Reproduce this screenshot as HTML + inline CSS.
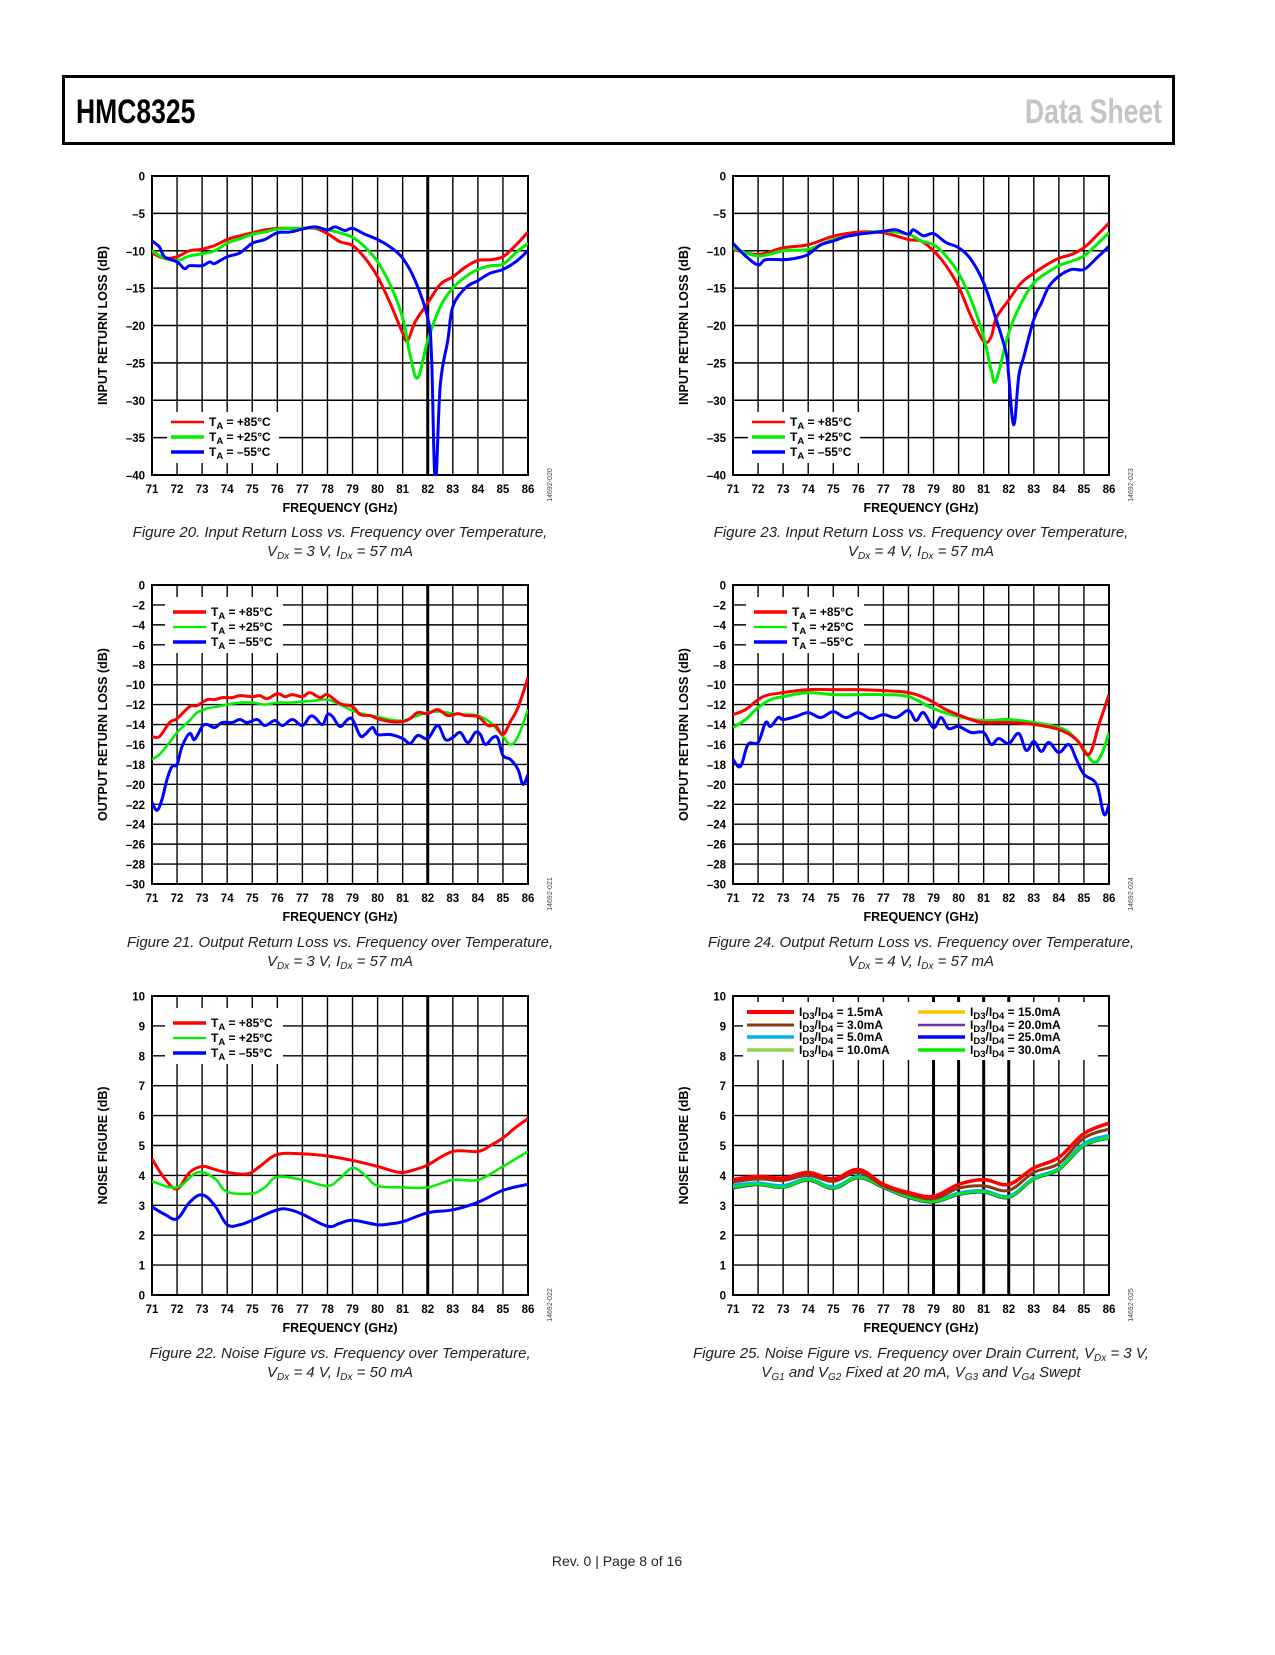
<!DOCTYPE html>
<html><head><meta charset="utf-8"><title>HMC8325 Data Sheet page 8</title>
<style>
html,body{margin:0;padding:0;background:#fff;}
body{width:1275px;height:1650px;position:relative;overflow:hidden;font-family:"Liberation Sans",sans-serif;}
svg text{font-family:"Liberation Sans",sans-serif;}
.cap{font-style:italic;font-size:15px;fill:#222;}
</style></head>
<body>
<svg id="pg" width="1275" height="1650" viewBox="0 0 1275 1650" xmlns="http://www.w3.org/2000/svg">
  <rect x="63.5" y="76.5" width="1110" height="67" fill="none" stroke="#000" stroke-width="3"/>
  <text x="76" y="123" font-size="34" font-weight="bold" transform="translate(76 0) scale(0.78 1) translate(-76 0)">HMC8325</text>
  <text x="1162" y="123" font-size="34" font-weight="bold" fill="#c4c4c4" text-anchor="end" transform="translate(1162 0) scale(0.78 1) translate(-1162 0)">Data Sheet</text>
  <text x="617" y="1566" font-size="14" text-anchor="middle" fill="#222">Rev. 0 | Page 8 of 16</text>
  <g id="charts"></g>
</svg>
<script>
// ---------- Figure 20 data (input return loss, Vdx=3V) ----------
const fig20Red = [[71,-10.3],[71.5,-11],[72,-10.8],[72.5,-10],[73,-9.8],[73.5,-9.3],[74,-8.5],[74.5,-8],[75,-7.6],[75.5,-7.2],[76,-7],[76.5,-7],[77,-7],[77.5,-7],[78,-7.7],[78.5,-8.8],[79,-9.3],[79.5,-11],[80,-13.5],[80.5,-17],[81,-21],[81.2,-22],[81.5,-19.5],[82,-17],[82.5,-14.5],[83,-13.5],[83.5,-12.2],[84,-11.3],[84.5,-11.2],[85,-10.8],[85.5,-9.3],[86,-7.5]];
const fig20Green = [[71,-10],[71.5,-11],[72,-11.3],[72.5,-10.7],[73,-10.4],[73.5,-10],[74,-9],[74.5,-8.4],[75,-7.8],[75.5,-7.5],[76,-7.1],[76.5,-7],[77,-7],[77.5,-6.9],[78,-7.2],[78.5,-7.6],[79,-8.2],[79.5,-9.5],[80,-11.5],[80.5,-14.5],[81,-19],[81.3,-24],[81.6,-27],[82,-22],[82.5,-17.5],[83,-15],[83.5,-13.5],[84,-12.5],[84.5,-12],[85,-11.8],[85.5,-10.3],[86,-9]];
const fig20Blue = [[71,-8.7],[71.3,-9.5],[71.5,-10.8],[72,-11.5],[72.3,-12.4],[72.5,-12],[73,-12],[73.3,-11.5],[73.5,-11.7],[74,-10.8],[74.5,-10.3],[75,-9],[75.5,-8.5],[76,-7.6],[76.5,-7.5],[77,-7.1],[77.5,-6.8],[78,-7.2],[78.3,-6.8],[78.7,-7.3],[79,-7],[79.5,-7.8],[80,-8.5],[80.5,-9.5],[81,-11],[81.5,-14],[82,-19],[82.15,-24],[82.3,-41],[82.5,-28],[82.8,-22],[83,-17.5],[83.5,-15],[84,-14],[84.5,-13],[85,-12.5],[85.5,-11.5],[86,-10]];
// ---------- Figure 23 data (input return loss, Vdx=4V) ----------
const fig23Red = [[71,-9.8],[72,-10.5],[73,-9.6],[74,-9.2],[75,-8.05],[76,-7.5],[77,-7.6],[78,-8.5],[78.5,-8.7],[79,-10],[79.5,-12],[80,-14.8],[80.5,-18.8],[81,-22.1],[81.3,-21.5],[81.5,-19],[82,-16.6],[82.5,-14.3],[83,-13],[83.5,-11.9],[84,-11],[84.5,-10.5],[85,-9.6],[85.5,-8],[86,-6.3]];
const fig23Green = [[71,-9.6],[72,-10.7],[73,-10],[74,-9.8],[75,-8.5],[76,-7.8],[77,-7.4],[78,-7.8],[78.5,-8.7],[79,-9.2],[79.5,-10.7],[80,-13],[80.5,-16.6],[81,-21.5],[81.3,-26],[81.5,-27.3],[82,-21],[82.5,-17],[83,-14.3],[83.5,-13],[84,-12],[84.5,-11.4],[85,-10.7],[85.5,-9.2],[86,-7.6]];
const fig23Blue = [[71,-9],[71.5,-10.7],[72,-11.9],[72.3,-11.2],[73,-11.2],[73.5,-11],[74,-10.5],[74.5,-9.2],[75,-8.7],[75.5,-8.1],[76,-7.8],[77,-7.4],[77.5,-7.2],[78,-7.8],[78.2,-7.2],[78.6,-8],[79,-7.7],[79.5,-8.9],[80,-9.6],[80.5,-11.2],[81,-14.3],[81.5,-19.2],[81.9,-23.7],[82,-26.8],[82.2,-33.3],[82.4,-26.8],[82.6,-24.2],[83,-19.2],[83.3,-17],[83.6,-14.8],[84,-13.4],[84.5,-12.5],[85,-12.5],[85.5,-11],[86,-9.4]];
// ---------- Figure 21 data (output return loss, Vdx=3V) ----------
const fig21Red = [[71,-15.2],[71.3,-15.2],[71.7,-13.8],[72,-13.4],[72.5,-12.2],[72.8,-12.1],[73.2,-11.5],[73.5,-11.5],[73.8,-11.3],[74.2,-11.3],[74.5,-11.1],[75,-11.2],[75.3,-11.1],[75.6,-11.4],[76,-10.9],[76.3,-11.2],[76.6,-11],[77,-11.2],[77.3,-10.8],[77.7,-11.3],[78,-11],[78.5,-11.9],[79,-12.2],[79.3,-13],[79.7,-13.1],[80,-13.4],[80.5,-13.7],[81,-13.7],[81.3,-13.4],[81.6,-12.8],[82,-12.9],[82.4,-12.5],[82.8,-13.1],[83.2,-12.9],[83.5,-13.1],[84,-13.2],[84.4,-14.1],[84.7,-14.1],[85,-15],[85.3,-13.7],[85.6,-12.3],[86,-9.3]];
const fig21Green = [[71,-17.5],[71.3,-17],[71.7,-15.8],[72,-14.8],[72.5,-13.6],[72.8,-12.8],[73.2,-12.4],[73.6,-12.2],[74,-12],[74.5,-11.8],[75,-11.8],[75.5,-12],[76,-11.8],[76.5,-11.8],[77,-11.7],[77.5,-11.6],[78,-11.5],[78.5,-12],[79,-12.6],[79.5,-13],[80,-13.2],[80.5,-13.5],[81,-13.6],[81.5,-13.2],[82,-12.8],[82.5,-12.7],[83,-12.9],[83.5,-13],[84,-13.1],[84.5,-13.8],[85,-15.2],[85.3,-16],[85.6,-15.2],[86,-12.5]];
const fig21Blue = [[71,-21.8],[71.2,-22.6],[71.4,-21.5],[71.6,-19.5],[71.8,-18.2],[72,-18],[72.2,-16.2],[72.5,-14.9],[72.7,-15.5],[73,-14.2],[73.2,-14],[73.5,-14.3],[73.8,-13.8],[74.2,-13.8],[74.5,-13.5],[74.8,-13.8],[75.2,-13.5],[75.5,-14.1],[75.9,-13.6],[76.2,-14.1],[76.6,-13.5],[77,-14.1],[77.3,-13.2],[77.5,-13.3],[77.8,-14],[78,-13],[78.2,-13.2],[78.5,-14.2],[78.8,-13.5],[79,-13.5],[79.3,-15.1],[79.5,-15],[79.8,-14.3],[80,-15],[80.5,-15],[81,-15.4],[81.3,-15.9],[81.6,-15.1],[82,-15.4],[82.4,-14.1],[82.7,-15.5],[83,-15.3],[83.3,-14.8],[83.6,-15.8],[83.9,-14.8],[84.1,-15],[84.3,-16],[84.6,-15.3],[84.8,-15.4],[85,-17.1],[85.3,-17.5],[85.6,-18.5],[85.8,-20],[86,-19]];
// ---------- Figure 24 data (output return loss, Vdx=4V) ----------
const fig24Red = [[71,-13],[71.5,-12.5],[72.2,-11.2],[73,-10.8],[74,-10.5],[75,-10.5],[76,-10.5],[77,-10.6],[78,-10.8],[78.8,-11.5],[79.5,-12.5],[80.5,-13.5],[81,-13.8],[82,-13.8],[83,-14],[84,-14.5],[84.7,-15.5],[85.2,-17],[85.6,-14],[86,-11]];
const fig24Green = [[71,-14.3],[71.5,-13.5],[72,-12.3],[72.5,-11.5],[73,-11.2],[74,-10.8],[75,-11],[76,-11],[77,-11],[78,-11.2],[79,-12.4],[80,-13.2],[81,-13.6],[82,-13.5],[83,-13.8],[84,-14.3],[84.5,-15],[85,-16.5],[85.4,-17.8],[85.7,-17],[86,-14.8]];
const fig24Blue = [[71,-17.5],[71.3,-18.2],[71.6,-16],[72,-15.8],[72.3,-13.8],[72.5,-14.2],[72.8,-13.3],[73,-13.5],[73.5,-13.2],[74,-12.8],[74.5,-13.3],[75,-12.7],[75.5,-13.3],[76,-12.8],[76.5,-13.4],[77,-13],[77.5,-13.3],[78,-12.6],[78.3,-13.6],[78.6,-12.8],[79,-14.3],[79.3,-13.3],[79.6,-14.4],[80,-14.2],[80.5,-14.8],[81,-14.8],[81.3,-16],[81.6,-15.4],[82,-15.9],[82.4,-14.9],[82.7,-16.6],[83,-15.7],[83.3,-16.7],[83.6,-15.8],[84,-16.8],[84.4,-16],[84.7,-17.5],[85,-19],[85.5,-20],[85.8,-23],[86,-22]];
// ---------- Figure 22 data (noise figure over temperature) ----------
const fig22Red = [[71,4.55],[71.5,3.9],[72,3.55],[72.5,4.1],[73,4.3],[73.5,4.2],[74,4.1],[74.8,4.05],[75.3,4.3],[76,4.7],[77,4.72],[78,4.65],[79,4.5],[80,4.3],[80.9,4.1],[81.5,4.2],[82,4.35],[83,4.8],[84,4.8],[84.5,5],[85,5.25],[85.5,5.6],[86,5.9]];
const fig22Green = [[71,3.8],[72,3.6],[72.8,4.1],[73.5,3.9],[74,3.45],[75,3.4],[75.5,3.6],[76,3.95],[77,3.85],[78,3.65],[78.5,3.9],[79,4.25],[79.5,4],[80,3.65],[81,3.6],[82,3.6],[83,3.85],[84,3.85],[85,4.3],[86,4.8]];
const fig22Blue = [[71,2.95],[71.5,2.7],[72,2.55],[72.5,3.1],[73,3.35],[73.5,3],[74,2.35],[74.5,2.35],[75,2.5],[76,2.85],[76.5,2.85],[77,2.7],[78,2.3],[78.5,2.4],[79,2.5],[80,2.35],[80.5,2.38],[81,2.45],[82,2.75],[83,2.85],[84,3.1],[85,3.5],[86,3.7]];
// ---------- Figure 25 data (noise figure over drain current) ----------
const fig25Freq = [71,72,73,74,75,76,77,78,79,80,81,82,83,84,85,86];
const fig25I1p5 = [3.86,3.97,3.91,4.1,3.88,4.2,3.7,3.43,3.3,3.7,3.86,3.7,4.25,4.6,5.4,5.75];
const fig25I3 = [3.78,3.88,3.83,4.0,3.8,4.1,3.65,3.37,3.22,3.57,3.65,3.5,4.1,4.4,5.25,5.55];
const fig25I5 = [3.68,3.76,3.67,3.9,3.63,3.97,3.65,3.32,3.17,3.42,3.5,3.32,3.93,4.25,5.08,5.35];
const fig25I10 = [3.63,3.72,3.62,3.87,3.59,3.95,3.62,3.29,3.14,3.39,3.47,3.29,3.9,4.22,5.04,5.3];
const fig25I15 = [3.58,3.68,3.6,3.84,3.56,3.92,3.59,3.26,3.11,3.36,3.44,3.26,3.87,4.19,5.0,5.26];
const fig25I20 = [3.57,3.68,3.59,3.83,3.55,3.91,3.58,3.25,3.1,3.35,3.43,3.25,3.86,4.18,4.98,5.24];
const fig25I25 = [3.58,3.69,3.59,3.84,3.56,3.92,3.59,3.26,3.11,3.36,3.44,3.26,3.87,4.19,4.99,5.25];
const fig25I30 = [3.6,3.7,3.6,3.85,3.57,3.93,3.6,3.27,3.12,3.37,3.45,3.27,3.88,4.2,5.0,5.25];
// ---------- axis tick definitions ----------
const freqTicks = [71,72,73,74,75,76,77,78,79,80,81,82,83,84,85,86];
const inRLTicks = [0,-5,-10,-15,-20,-25,-30,-35,-40];
const outRLTicks = [0,-2,-4,-6,-8,-10,-12,-14,-16,-18,-20,-22,-24,-26,-28,-30];
const nfTicks = [0,1,2,3,4,5,6,7,8,9,10];

const NS = 'http://www.w3.org/2000/svg';
const root = document.getElementById('charts');
function mk(tag, attrs, parent){
  const e = document.createElementNS(NS, tag);
  for (const k in attrs) e.setAttribute(k, attrs[k]);
  (parent||root).appendChild(e);
  return e;
}
function smoothPath(pts){
  let d = 'M' + pts[0][0].toFixed(2) + ',' + pts[0][1].toFixed(2);
  for (let i = 0; i < pts.length - 1; i++){
    const p0 = pts[i-1] || pts[i], p1 = pts[i], p2 = pts[i+1], p3 = pts[i+2] || p2;
    const t = 0.18;
    const c1x = p1[0] + (p2[0]-p0[0])*t, c1y = p1[1] + (p2[1]-p0[1])*t;
    const c2x = p2[0] - (p3[0]-p1[0])*t, c2y = p2[1] - (p3[1]-p1[1])*t;
    d += ' C' + c1x.toFixed(2)+','+c1y.toFixed(2)+' '+c2x.toFixed(2)+','+c2y.toFixed(2)+' '+p2[0].toFixed(2)+','+p2[1].toFixed(2);
  }
  return d;
}
let clipId = 0;
function chart(cfg){
  const g = mk('g', {});
  
  
  const x0 = cfg.x0, x1 = cfg.x0 + 376, y0 = cfg.y0, y1 = cfg.y0 + 299;
  const xs = f => x0 + (f - 71) / 15 * (x1 - x0);
  const ys = v => y0 + (cfg.ymax - v) / (cfg.ymax - cfg.ymin) * (y1 - y0);
  const grid = mk('g', {stroke:'#000', 'stroke-width':1.4}, g);
  
  
  cfg.yTicks.forEach(v => {
    const l = mk('line', {x1:x0, x2:x1, y1:ys(v), y2:ys(v)}, grid);
    
    
    const t = mk('text', {x:x0-7, y:ys(v)+4.5, 'font-size':11.5, 'font-weight':'bold', 'text-anchor':'end', stroke:'none'}, g);
    
    
    t.textContent = v < 0 ? '\u2013' + Math.abs(v) : String(v);
  });
  freqTicks.forEach(f => {
    const thick = cfg.thick.indexOf(f) >= 0;
    const l = mk('line', {x1:xs(f), x2:xs(f), y1:y0, y2:y1, 'stroke-width': thick ? 3 : 1.4}, grid);
    
    
    const t = mk('text', {x:xs(f), y:y1+18, 'font-size':11.5, 'font-weight':'bold', 'text-anchor':'middle'}, g);
    
    
    t.textContent = String(f);
  });
  const frame = mk('rect', {x:x0, y:y0, width:x1-x0, height:y1-y0, fill:'none', stroke:'#000', 'stroke-width':2}, g);
  
  
  const xt = mk('text', {x:(x0+x1)/2, y:y1+37, 'font-size':12.5, 'font-weight':'bold', 'text-anchor':'middle'}, g);
  
  
  xt.textContent = 'FREQUENCY (GHz)';
  const yc = (y0+y1)/2;
  const yt = mk('text', {x:x0-49, y:yc, 'font-size':12.5, 'font-weight':'bold', 'text-anchor':'middle', transform:'rotate(-90 '+(x0-49)+' '+yc+')', dy:4}, g);
  
  
  yt.textContent = cfg.ytitle;
  const fid = mk('text', {x:x1+24, y:y1+10, 'font-size':7, 'text-anchor':'middle', fill:'#444', transform:'rotate(-90 '+(x1+24)+' '+(y1+10)+')'}, g);
  
  
  fid.textContent = cfg.fid;
  const lb = mk('rect', {x:cfg.leg[0], y:cfg.leg[1], width:cfg.leg[2], height:cfg.leg[3], fill:'#fff'}, g);
  
  
  clipId++;
  const cp = mk('clipPath', {id:'cp'+clipId}, g);
  mk('rect', {x:x0, y:y0, width:x1-x0, height:y1-y0+1}, cp);
  cfg.series.forEach(s => {
    const pts = s.data.map(p => [xs(p[0]), ys(p[1])]);
    const p = mk('path', {d:smoothPath(pts), fill:'none', stroke:s.color, 'stroke-width':s.w, 'stroke-linejoin':'round', 'clip-path':'url(#cp'+clipId+')'}, g);
    
    
  });
  cfg.legend.forEach(e => {
    const l = mk('line', {x1:e.x, x2:e.x+e.len, y1:e.y, y2:e.y, stroke:e.color, 'stroke-width':e.w}, g);
    
    
    const t = mk('text', {x:e.x+e.len+5, y:e.y+4, 'font-size':12, 'font-weight':'bold'}, g);
    
    
    e.parts.forEach(pt => {
      const ts = mk('tspan', pt.sub ? {'font-size':9.5, dy:3} : (pt.up ? {dy:-3} : {}), t);
      ts.textContent = pt.t;
    });
  });
  cfg.caption.forEach((line, i) => {
    const c = mk('text', {x:(x0+x1)/2 + 0, y:cfg.capY + i*19, 'text-anchor':'middle', class:'cap'}, g);
    
    
    line.forEach(pt => {
      const ts = mk('tspan', pt.sub ? {'font-size':10, dy:3} : (pt.up ? {dy:-3} : {}), c);
      ts.textContent = pt.t;
    });
  });
}
function tempLegend(x, y, dy, w){
  return [
    {x:x, y:y, len:33, color:'#ff0000', w:w[0], parts:[{t:'T'},{t:'A',sub:1},{t:' = +85\u00B0C',up:1}]},
    {x:x, y:y+dy, len:33, color:'#00ee00', w:w[1], parts:[{t:'T'},{t:'A',sub:1},{t:' = +25\u00B0C',up:1}]},
    {x:x, y:y+2*dy, len:33, color:'#0000ff', w:w[2], parts:[{t:'T'},{t:'A',sub:1},{t:' = \u201355\u00B0C',up:1}]}
  ];
}
function vcap(v, i){
  return [{t:'V'},{t:'Dx',sub:1},{t:' = '+v+' V, I',up:1},{t:'Dx',sub:1},{t:' = '+i+' mA',up:1}];
}
const L = 152, R = 733, Y1 = 176, Y2 = 585, Y3 = 996;
chart({name:'fig20-input-return-loss-3v', x0:L, y0:Y1, ymin:-40, ymax:0, yTicks:inRLTicks, thick:[82], ytitle:'INPUT RETURN LOSS (dB)', fid:'14692-020',
  leg:[L+15, Y1+236, 112, 51], legend: tempLegend(L+19, Y1+246, 15, [2.5,3.5,3.5]),
  series:[{name:'series-85c',data:fig20Red,color:'#ff0000',w:3},{name:'series-25c',data:fig20Green,color:'#00ee00',w:3},{name:'series-minus55c',data:fig20Blue,color:'#0000ff',w:3}],
  caption:[[{t:'Figure 20. Input Return Loss vs. Frequency over Temperature,'}], vcap(3,57)], capY:537});
chart({name:'fig23-input-return-loss-4v', x0:R, y0:Y1, ymin:-40, ymax:0, yTicks:inRLTicks, thick:[], ytitle:'INPUT RETURN LOSS (dB)', fid:'14692-023',
  leg:[R+15, Y1+236, 112, 51], legend: tempLegend(R+19, Y1+246, 15, [2.5,3.5,3.5]),
  series:[{name:'series-85c',data:fig23Red,color:'#ff0000',w:3},{name:'series-25c',data:fig23Green,color:'#00ee00',w:3},{name:'series-minus55c',data:fig23Blue,color:'#0000ff',w:3}],
  caption:[[{t:'Figure 23. Input Return Loss vs. Frequency over Temperature,'}], vcap(4,57)], capY:537});
chart({name:'fig21-output-return-loss-3v', x0:L, y0:Y2, ymin:-30, ymax:0, yTicks:outRLTicks, thick:[82], ytitle:'OUTPUT RETURN LOSS (dB)', fid:'14692-021',
  leg:[L+13, Y2+12, 118, 56], legend: tempLegend(L+21, Y2+27, 15, [3.5,2.2,3.5]),
  series:[{name:'series-minus55c',data:fig21Blue,color:'#0000ff',w:3},{name:'series-25c',data:fig21Green,color:'#00ee00',w:2.5},{name:'series-85c',data:fig21Red,color:'#ff0000',w:3}],
  caption:[[{t:'Figure 21. Output Return Loss vs. Frequency over Temperature,'}], vcap(3,57)], capY:947});
chart({name:'fig24-output-return-loss-4v', x0:R, y0:Y2, ymin:-30, ymax:0, yTicks:outRLTicks, thick:[], ytitle:'OUTPUT RETURN LOSS (dB)', fid:'14692-024',
  leg:[R+13, Y2+12, 118, 56], legend: tempLegend(R+21, Y2+27, 15, [3.5,2.2,3.5]),
  series:[{name:'series-minus55c',data:fig24Blue,color:'#0000ff',w:3},{name:'series-25c',data:fig24Green,color:'#00ee00',w:3},{name:'series-85c',data:fig24Red,color:'#ff0000',w:3}],
  caption:[[{t:'Figure 24. Output Return Loss vs. Frequency over Temperature,'}], vcap(4,57)], capY:947});
chart({name:'fig22-noise-figure-temperature', x0:L, y0:Y3, ymin:0, ymax:10, yTicks:nfTicks, thick:[82], ytitle:'NOISE FIGURE (dB)', fid:'14692-022',
  leg:[L+13, Y3+12, 118, 56], legend: tempLegend(L+21, Y3+27, 15, [3.5,2.2,3.5]),
  series:[{name:'series-85c',data:fig22Red,color:'#ff0000',w:3},{name:'series-25c',data:fig22Green,color:'#00ee00',w:2.5},{name:'series-minus55c',data:fig22Blue,color:'#0000ff',w:3}],
  caption:[[{t:'Figure 22. Noise Figure vs. Frequency over Temperature,'}], vcap(4,50)], capY:1358});
function pairs(ys){ return fig25Freq.map((f, i) => [f, ys[i]]); }
function idLeg(x, y, color, w, val){
  return {x:x, y:y, len:47, color:color, w:w, parts:[{t:'I'},{t:'D3',sub:1},{t:'/I',up:1},{t:'D4',sub:1},{t:' = '+val,up:1}]};
}
chart({name:'fig25-noise-figure-drain-current', x0:R, y0:Y3, ymin:0, ymax:10, yTicks:nfTicks, thick:[79,80,81,82], ytitle:'NOISE FIGURE (dB)', fid:'14692-025',
  leg:[R+10, Y3+6, 355, 58],
  legend:[idLeg(747,1012,'#ff0000',4,'1.5mA'), idLeg(747,1025,'#8b3a0f',3,'3.0mA'), idLeg(747,1037,'#00b0f0',3.5,'5.0mA'), idLeg(747,1050,'#92d050',3.5,'10.0mA'),
          idLeg(918,1012,'#ffc000',3.5,'15.0mA'), idLeg(918,1025,'#7030a0',2.5,'20.0mA'), idLeg(918,1037,'#0000ff',3.5,'25.0mA'), idLeg(918,1050,'#00ee00',3.5,'30.0mA')],
  series:[{name:'series-15ma',data:pairs(fig25I15),color:'#ffc000',w:2.5},{name:'series-20ma',data:pairs(fig25I20),color:'#7030a0',w:2.5},{name:'series-25ma',data:pairs(fig25I25),color:'#0000ff',w:2.5},
          {name:'series-10ma',data:pairs(fig25I10),color:'#92d050',w:2.5},{name:'series-5ma',data:pairs(fig25I5),color:'#00b0f0',w:2.5},{name:'series-30ma',data:pairs(fig25I30),color:'#00ee00',w:2.5},
          {name:'series-3ma',data:pairs(fig25I3),color:'#8b3a0f',w:3},{name:'series-1p5ma',data:pairs(fig25I1p5),color:'#ff0000',w:3.5}],
  caption:[[{t:'Figure 25. Noise Figure vs. Frequency over Drain Current, V'},{t:'Dx',sub:1},{t:' = 3 V,',up:1}],
           [{t:'V'},{t:'G1',sub:1},{t:' and V',up:1},{t:'G2',sub:1},{t:' Fixed at 20 mA, V',up:1},{t:'G3',sub:1},{t:' and V',up:1},{t:'G4',sub:1},{t:' Swept',up:1}]], capY:1358});
</script>
</body></html>
